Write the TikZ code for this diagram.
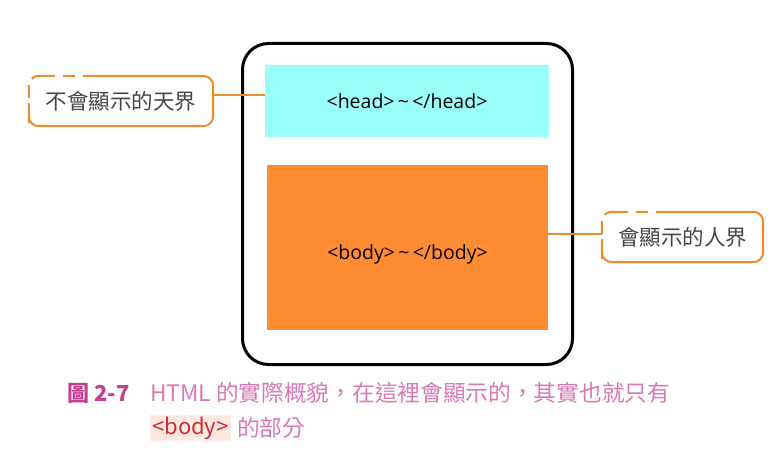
\documentclass[tikz,border=0pt]{standalone}
\usepackage{fontspec}
\setmainfont{Noto Sans CJK TC}
\newfontfamily\codefont{Open Sans}
\usepackage{tikz}
\usetikzlibrary{positioning}
\definecolor{cyanbox}{RGB}{153,255,250}
\definecolor{orangebox}{RGB}{255,140,50}
\definecolor{calloutline}{RGB}{237,140,45}
\definecolor{calloutgray}{RGB}{70,70,70}
\definecolor{capmagenta}{RGB}{196,62,146}
\definecolor{captext}{RGB}{218,120,182}
\definecolor{tagred}{RGB}{212,42,52}
\definecolor{tagback}{RGB}{253,232,226}

\begin{document}
\begin{tikzpicture}[x=1pt,y=-1pt,
	frame/.style={draw,line width=3pt,rounded corners=26pt,minimum width=330pt,minimum height=321pt},
	areabox/.style={inner sep=0pt,font=\codefont\fontsize{19.5}{22}\selectfont},
	callout/.style={minimum height=50pt,inner sep=0pt,text=calloutgray,font=\fontsize{21.5}{24}\selectfont},
	calloutborder/.style={draw=calloutline,line width=2pt,rounded corners=10pt,dash pattern=on 0pt off 5pt on 13pt off 7pt on 24pt off 8pt on 12pt off 8pt on 2000pt},
	link/.style={draw=calloutline,line width=2pt},
	caption/.style={anchor=west,inner sep=0pt,text=captext,font=\fontsize{22.7}{26}\selectfont}]
	
	\useasboundingbox (0,0) rectangle (773,452);
	
	\node [frame] (frame) at (407.5, 204) {};
	\node [areabox, fill=cyanbox, minimum width=284pt, minimum height=72pt] (head) at (407, 101) {<head>\,\textasciitilde\,</head>};
	\node [areabox, fill=orangebox, minimum width=281pt, minimum height=165pt,
		label={[areabox, yshift=-7pt]center:<body>\,\textasciitilde\,</body>}] (body) at (407.5, 247.5) {};
	
	\node [callout, minimum width=184pt] (heaven) at (121, 101) {不會顯示的天界};
	\node [callout, minimum width=161pt] (human) at (682.5, 237) {會顯示的人界};
	
	\draw [calloutborder] ([yshift=-12pt]heaven.west) |- (heaven.north east) |- (heaven.south west) -- cycle;
	\draw [calloutborder] ([yshift=-12pt]human.west) |- (human.north east) |- (human.south west) -- cycle;
	
	\coordinate (headlink) at ([yshift=6pt]heaven.east);
	\coordinate (bodylink) at ([yshift=3pt]human.west);
	\draw [link] (headlink) -- (headlink -| head.west);
	\draw [link] (bodylink) -- (bodylink -| body.east);
	
	% caption
	\node [caption, text=capmagenta, font=\bfseries\fontsize{22}{26}\selectfont] (fignum) at (67, 393) {圖 2-7};
	\node [caption] (capline) at (150, 393) {HTML 的實際概貌，在這裡會顯示的，其實也就只有};
	\node [caption, fill=tagback, text=tagred, inner sep=2pt, font=\fontsize{22}{26}\selectfont] (tag) at (150, 428) {<body>};
	\node [caption, right=6pt of tag] (captail) {的部分};
\end{tikzpicture}
\end{document}
